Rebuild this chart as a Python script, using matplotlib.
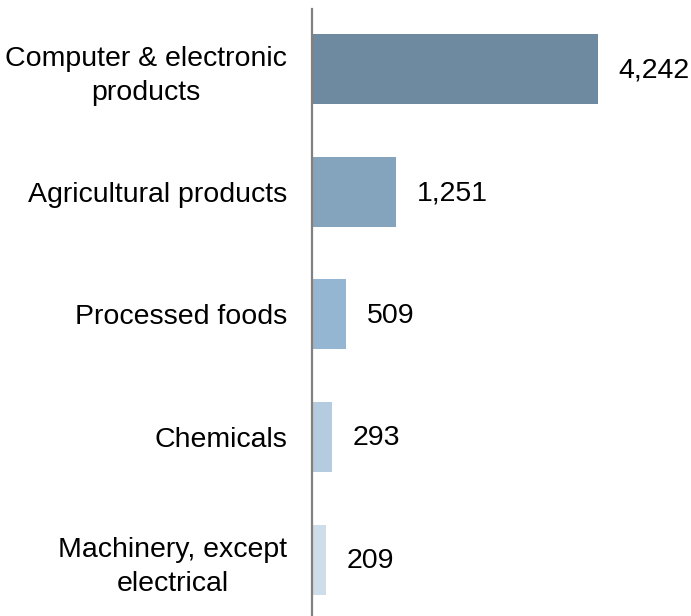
import matplotlib.pyplot as plt

plt.rcParams['font.family'] = ['Liberation Sans', 'DejaVu Sans']

# Data
categories = ["Computer & electronic\nproducts", "Agricultural products", "Processed foods",
              "Chemicals", "Machinery, except\nelectrical"]
values = [4242, 1251, 509, 293, 209]

colors = ["#6e8aa0", "#84a4be", "#95b6d3", "#b5cce0", "#cfdde9"]

fig = plt.figure(figsize=(6.91, 6.16), dpi=100)
ax = fig.add_axes([312 / 691, 0, 379 / 691, 607 / 616])

positions = list(range(len(categories)))
ax.barh(positions, values, height=0.57, color=colors)

# Value labels to the right of each bar
for pos, val in zip(positions, values):
    ax.annotate(f"{val:,}", xy=(val, pos), xytext=(15, -1), textcoords="offset points",
                va="center", ha="left", fontsize=20.5, color="black")

ax.set_ylim(4.46, -0.49)
ax.set_xlim(0, 379 / (286 / 4242))

ax.set_yticks(positions)
ax.set_yticklabels(categories, fontsize=20.5, multialignment="center", linespacing=1.4)
ax.tick_params(axis="y", length=0, pad=18)
ax.set_xticks([])

for side in ["top", "right", "bottom"]:
    ax.spines[side].set_visible(False)
ax.spines["left"].set_color("#808080")
ax.spines["left"].set_linewidth(1.6)

plt.savefig("out.png", dpi=100)
